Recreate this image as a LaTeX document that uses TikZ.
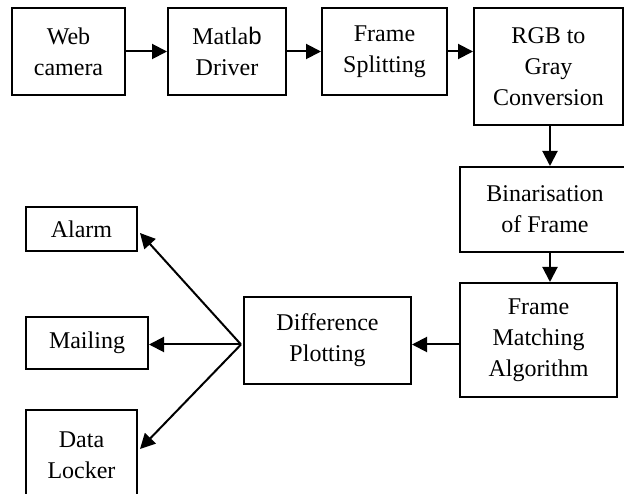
\documentclass[tikz,border=0pt]{standalone}
\usepackage{fontspec}
\setmainfont{Liberation Serif}
\setsansfont{Liberation Sans}
\usetikzlibrary{arrows.meta}
\begin{document}
\begin{tikzpicture}[x=1pt,y=-1pt,
  box/.style={draw, line width=2pt, align=center, inner sep=0pt,
    font=\fontsize{24}{31}\selectfont},
  arr/.style={line width=2pt, -{Triangle[length=15pt,width=15pt]}}]
\useasboundingbox (0,0) rectangle (624,494);
\clip (0,0) rectangle (624,494);
\node[box, minimum width=113pt, minimum height=87pt] (web) at (68.5,51.5) {Web\\camera};
\node[box, minimum width=118pt, minimum height=87pt] (matlab) at (227,51.5) {Matla{\sffamily b}\\Driver};
\node[box, minimum width=125pt, minimum height=87pt] (split) at (384.5,51.5) {Frame\\Splitting};
\node[box, minimum width=149pt, minimum height=117pt] (rgb) at (548.5,66.5) {RGB to\\Gray\\Conversion};
\node[box, minimum width=170pt, minimum height=85pt] (bin) at (545,209.5) {Binarisation\\of Frame};
\node[box, minimum width=157pt, minimum height=114pt] (fm) at (538.5,340) {Frame\\Matching\\Algorithm};
\node[box, minimum width=167pt, minimum height=87pt] (dp) at (327.5,340.5) {Difference\\Plotting};
\node[box, minimum width=111pt, minimum height=44pt] (alarm) at (81.5,229) {Alarm};
\node[box, minimum width=122pt, minimum height=52pt] (mail) at (87,343) {Mailing};
\node[box, minimum width=111pt, minimum height=90pt] (dl) at (81.5,455) {Data\\Locker};
\coordinate (fan) at ([xshift=-2pt,yshift=-4pt]dp.west);
\draw[arr] (web.east) -- (matlab.west);
\draw[arr] (matlab.east) -- (split.west);
\draw[arr] (split.east) -- (split.east -| rgb.west);
\draw[arr] ([xshift=1.5pt]rgb.south) -- ([xshift=1.5pt]rgb.south |- bin.north);
\draw[arr] ([xshift=1.5pt]rgb.south |- bin.south) -- ([xshift=1.5pt]rgb.south |- fm.north);
\draw[arr] (fm.west |- fan) -- (dp.east |- fan);
\draw[arr] (fan) -- ([xshift=2pt,yshift=-4pt]alarm.east);
\draw[arr] (fan) -- (mail.east |- fan);
\draw[arr] (fan) -- ([xshift=2pt,yshift=-40pt]dl.north east);
\end{tikzpicture}
\end{document}
